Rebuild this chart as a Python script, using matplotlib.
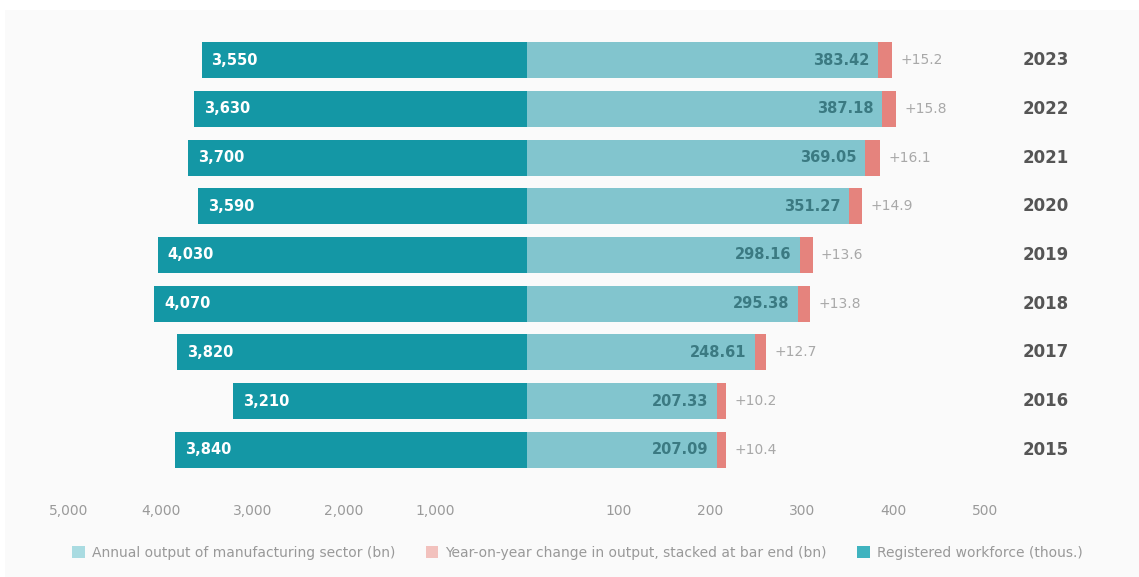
import matplotlib
matplotlib.use("Agg")
import matplotlib.pyplot as plt
from matplotlib.patches import Rectangle, Patch

# ---------------- data ----------------
years = ["2023", "2022", "2021", "2020", "2019", "2018", "2017", "2016", "2015"]
workforce = [3550, 3630, 3700, 3590, 4030, 4070, 3820, 3210, 3840]          # left, thousand
output = [383.42, 387.18, 369.05, 351.27, 298.16, 295.38, 248.61, 207.33, 207.09]  # right, bn
change = [15.2, 15.8, 16.1, 14.9, 13.6, 13.8, 12.7, 10.2, 10.4]              # right stacked, bn
left_ticks = [1000, 2000, 3000, 4000, 5000]
right_ticks = [100, 200, 300, 400, 500]
legend_labels = ["Annual output of manufacturing sector (bn)",
                 "Year-on-year change in output, stacked at bar end (bn)",
                 "Registered workforce (thous.)"]

# ---------------- style ----------------
C_LEFT = "#1497a5"
C_RIGHT = "#82c5ce"
C_RED = "#e5837d"
C_TICK = "#9a9a9a"

W, H = 1139, 577
fig = plt.figure(figsize=(W / 100, H / 100), dpi=100, facecolor="white")
fig.patches.append(Rectangle((5 / W, 0), 1 - 5 / W, (H - 10) / H, transform=fig.transFigure,
                             facecolor="#fafafa", edgecolor="none", zorder=-10))

ax_bottom = (H - 479) / H
ax_height = (479 - 31) / H
axL = fig.add_axes([20 / W, ax_bottom, (527 - 20) / W, ax_height])
axR = fig.add_axes([527 / W, ax_bottom, (1003 - 527) / W, ax_height])

ypos = list(range(len(years)))
bh = 0.74

axL.barh(ypos, workforce, height=bh, color=C_LEFT)
axL.set_xlim(5535, 0)
axR.barh(ypos, output, height=bh, color=C_RIGHT)
axR.barh(ypos, change, left=output, height=bh, color=C_RED)
axR.set_xlim(0, 519.7)

for ax in (axL, axR):
    ax.set_ylim(len(years) - 0.4, -0.6)
    ax.set_facecolor("none")
    for s in ax.spines.values():
        s.set_visible(False)
    ax.set_yticks([])
    ax.tick_params(axis="x", length=0, pad=18, labelsize=10, labelcolor=C_TICK)

axL.set_xticks(left_ticks)
axL.set_xticklabels([f"{t:,}" for t in left_ticks])
axR.set_xticks(right_ticks)
axR.set_xticklabels([str(t) for t in right_ticks])

for i in ypos:
    axL.annotate(f"{workforce[i]:,}", (workforce[i], i), xytext=(7, 0), textcoords="offset points",
                 ha="left", va="center", color="white", fontsize=10.5, fontweight="bold")
    axR.annotate(f"{output[i]:.2f}", (output[i], i), xytext=(-6, 0), textcoords="offset points",
                 ha="right", va="center", color="#3b7a82", fontsize=10.5, fontweight="bold")
    axR.annotate(f"+{change[i]:.1f}", (output[i] + change[i], i), xytext=(6, 0), textcoords="offset points",
                 ha="left", va="center", color="#a8a8a8", fontsize=10)
    axR.annotate(years[i], (1, i), xycoords=("axes fraction", "data"), xytext=(14, 0),
                 textcoords="offset points", ha="left", va="center", color="#555555",
                 fontsize=12, fontweight="bold")

handles = [Patch(facecolor="#a9dbe1"), Patch(facecolor="#f2c1bd"), Patch(facecolor="#3fb3bf")]
fig.legend(handles, legend_labels, loc="center", bbox_to_anchor=(0.507, (H - 553) / H), ncol=3,
           frameon=False, fontsize=10, labelcolor="#999999", handlelength=0.9, handleheight=0.9,
           handletextpad=0.5, columnspacing=2.2)

fig.savefig("out.png", dpi=100, facecolor="white")
